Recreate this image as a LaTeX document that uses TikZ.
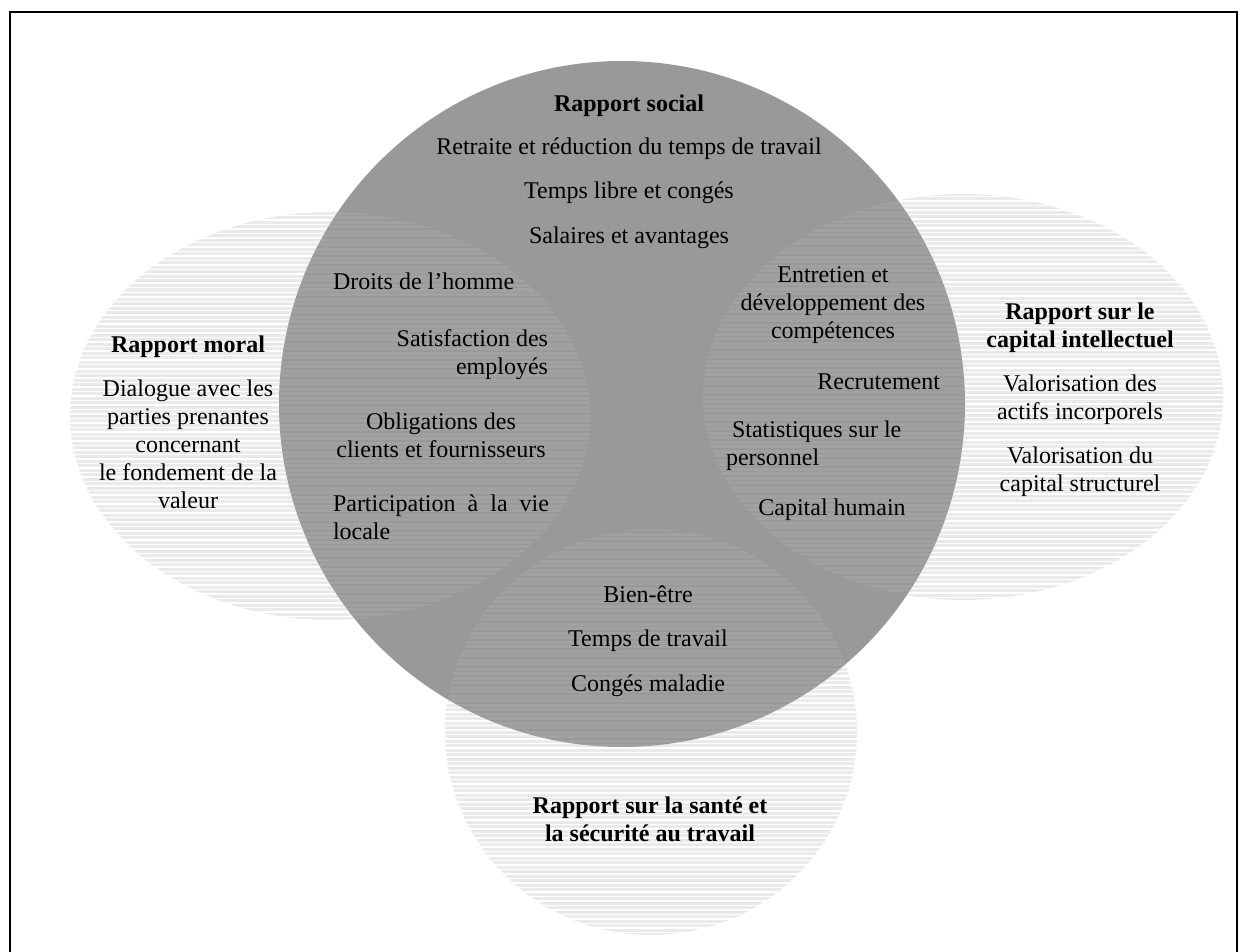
\documentclass[tikz,border=0pt]{standalone}
\usepackage{fontspec}
\setmainfont{Liberation Serif}
\begin{document}
\begin{tikzpicture}[x=0.5pt,y=-0.5pt,
  every node/.style={inner sep=0pt,outer sep=0pt,font=\fontsize{12}{14}\selectfont},
  txt/.style={anchor=base,align=center},
  head/.style={anchor=base,align=center,font=\fontsize{12}{14}\selectfont\bfseries},
  frameline/.style={line width=1pt,draw=black},
  socialdisc/.style={fill=black!40},
  band/.style={fill=black!28,fill opacity=0.29}]

\useasboundingbox (0,0) rectangle (1247,952);

% outer frame (its lower edge lies below the page)
\draw[frameline] (10,12) rectangle (1237,960);

% central disc: social report
\fill[socialdisc] (622,404) circle [radius=171.5pt];

% striped translucent ellipses of the three other reports
\begin{scope}
  \clip (330,416) ellipse [x radius=130pt,y radius=102pt];
  \foreach \yy in {212,216.5,...,622} \fill[band] (60,\yy) rectangle (600,\yy+3);
\end{scope}
\begin{scope}
  \clip (963,397) ellipse [x radius=130pt,y radius=101.5pt];
  \foreach \yy in {193,197.5,...,602} \fill[band] (700,\yy) rectangle (1230,\yy+3);
\end{scope}
\begin{scope}
  \clip (651,732) ellipse [x radius=103pt,y radius=101.5pt];
  \foreach \yy in {528,532.5,...,938} \fill[band] (440,\yy) rectangle (862,\yy+3);
\end{scope}

% social report (multi-line nodes sit on the baseline of their last line)
\node[head] (social) at (629,112) {Rapport social};
\node[txt] (retraite) at (629,155) {Retraite et réduction du temps de travail};
\node[txt] (libre) at (629,199) {Temps libre et congés};
\node[txt] (salaires) at (629,243) {Salaires et avantages};

% shared with the moral report
\node[anchor=base west] (droits) at (333,290) {Droits de l’homme};
\node[anchor=base east,align=right] (satisf) at (548,374) {Satisfaction des\\employés};
\node[txt] (oblig) at (441,457) {Obligations des\\clients et fournisseurs};
\node[anchor=base west,text width=108pt,align=justify] (partic) at (333,511) {Participation à la vie locale};

% shared with the intellectual capital report
\node[txt] (entretien) at (833,338) {Entretien et\\développement des\\compétences};
\node[anchor=base east] (recrut) at (940,389) {Recrutement};
\node[anchor=base west,align=left] (stats) at (726,465) {\hspace*{3pt}Statistiques sur le\\personnel};
\node[txt] (humain) at (832,515) {Capital humain};

% shared with the health and safety report
\node[txt] (bien) at (648,602) {Bien-être};
\node[txt] (travail) at (648,646) {Temps de travail};
\node[txt] (maladie) at (648,691) {Congés maladie};

% moral report
\node[head] (moral) at (188,352) {Rapport moral};
\node[txt] (dialogue) at (188,508) {Dialogue avec les\\parties prenantes\\concernant\\le fondement de la\\valeur};

% intellectual capital report
\node[head] (intel) at (1080,347) {Rapport sur le\\capital intellectuel};
\node[txt] (incorp) at (1080,419) {Valorisation des\\actifs incorporels};
\node[txt] (struct) at (1080,491) {Valorisation du\\capital structurel};

% health and safety report
\node[head] (sante) at (650,841) {Rapport sur la santé et\\la sécurité au travail};

\end{tikzpicture}
\end{document}
